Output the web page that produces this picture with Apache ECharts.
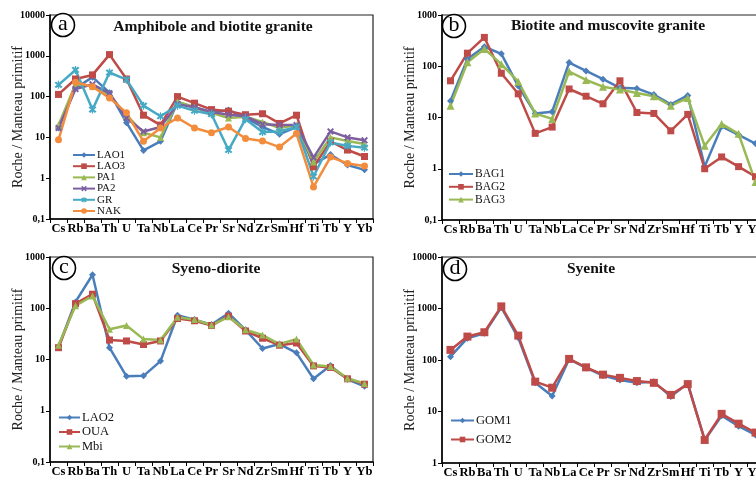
<!DOCTYPE html>
<html>
<head>
<meta charset="utf-8">
<script src="https://cdn.jsdelivr.net/npm/echarts@6/dist/echarts.min.js"></script>
<style>html,body{margin:0;padding:0;background:#fff;}#chart{width:756px;height:479px;}</style>
</head>
<body>
<div id="chart"></div>
<script>
const categories = ['Cs','Rb','Ba','Th','U','Ta','Nb','La','Ce','Pr','Sr','Nd','Zr','Sm','Hf','Ti','Tb','Y','Yb'];

// Panel a: Amphibole and biotite granite
const LAO1 = [17,160,300,125,23,4.8,8,73,55,40,47,30,18,12,18,2.2,3.8,2.1,1.6];
const LAO3 = [113,270,340,1070,270,35,20,100,69,48,44,36,38,22,35,1.9,8,4.9,3.4];
const PA1  = [20,200,180,110,35,13,10,75,55,40,30,32,24,17,20,2.5,10,8.2,6.9];
const PA2  = [17,153,200,120,30,14,18,65,55,42,36,33,21,20,20,3.2,14,10,8.5];
const GR   = [194,450,48,390,260,60,33,60,45,37,4.9,28,13.5,14,18,1.1,7.5,6.2,5.6];
const NAK  = [8.7,225,175,93,40,8,17,30,17,13,18,9.4,8.2,5.8,12.4,0.61,3.3,2.3,2.0];

// Panel b: Biotite and muscovite granite
const BAG1 = [21,138,240,175,41,12,13,118,81,56,38,37,28,18,27,1.1,6.7,4.6,3.1];
const BAG2 = [52,180,365,73,29,4.9,6.5,36,26,18.5,52,12.5,12,5.5,11.5,1.0,1.7,1.1,0.7];
const BAG3 = [17,120,218,110,50,12,9.4,79,54,40,35,30,26,17,24,2.8,7.5,4.8,0.55];

// Panel c: Syeno-diorite
const LAO2 = [17.7,133,450,17,4.7,4.8,9.3,73,60,48,80,38,16.4,20,13.5,4.2,7.6,4.1,3.0];
const OUA  = [17,123,188,24,23,19.6,23,63,57,46,70,36,26,19,21,7.5,7,4.2,3.3];
const Mbi  = [19,112,174,39,46,25,24,67,60,47,68,38,30,20,25,7.8,7.3,4.3,3.4];

// Panel d: Syenite
const GOM1 = [116,265,330,1050,270,36,20,104,70,50,41,36,38,19.5,35,2.8,8.3,5.2,3.5];
const GOM2 = [157,285,346,1100,298,38,29,105,72,52,45,39,36,21,34,2.8,9,5.8,3.9];

const panelTitles = ['Amphibole and biotite granite','Biotite and muscovite granite','Syeno-diorite','Syenite'];
const panelLetters = ['a','b','c','d'];
const yRanges = [[0.1,10000],[0.1,1000],[0.1,1000],[1,10000]];
const yName = 'Roche / Manteau primitif';

const C = {blue:'#4A7EBB', red:'#BE4B48', green:'#98B954', purple:'#7D5FA0', cyan:'#46AAC5', orange:'#F38D3D'};
const F = 'Liberation Serif';
const XMARK = 'path://M0,2L2,0L5,3L8,0L10,2L7,5L10,8L8,10L5,7L2,10L0,8L3,5Z';
const STAR = 'path://M0,2L2,0L5,3L8,0L10,2L7,5L10,8L8,10L5,7L2,10L0,8L3,5Z M4.2,-1L5.8,-1L5.8,11L4.2,11Z';

const grids = [
  {left:50, top:15, width:323, height:204},
  {left:442, top:15, width:322, height:205},
  {left:50, top:257, width:323, height:205},
  {left:442, top:257, width:322, height:206}
];

function fmt(v){
  const s = Number(Number(v).toPrecision(3)).toString();
  return s.replace('.', ',');
}

const xAxis = grids.map((g,i)=>({
  type:'category', gridIndex:i, data:categories, boundaryGap:true,
  axisLine:{lineStyle:{color:'#000', width:1.5}},
  axisTick:{show:true, length:4, lineStyle:{color:'#000'}},
  axisLabel:{interval:0, hideOverlap:false, color:'#000', fontFamily:F, fontWeight:'bold', fontSize:12.5, margin:3}
}));
const yAxis = grids.map((g,i)=>({
  type:'log', logBase:10, gridIndex:i, min:yRanges[i][0], max:yRanges[i][1],
  name:yName, nameLocation:'middle', nameGap:25, nameMoveOverlap:false,
  nameTextStyle:{fontFamily:F, fontSize:14, color:'#222'},
  axisLine:{show:true, lineStyle:{color:'#000', width:1.5}},
  axisTick:{show:true, length:4, lineStyle:{color:'#000'}},
  splitLine:{show:false}, minorTick:{show:false},
  axisLabel:{color:'#000', fontFamily:F, fontWeight:'bold', fontSize:10, margin:5, formatter:fmt}
}));

function mk(name, data, idx, color, symbol, size, extra){
  const s = {
    name, type:'line', data, xAxisIndex:idx, yAxisIndex:idx,
    symbol, symbolSize:size, color,
    lineStyle:{width:2.5, color},
    itemStyle:{color},
    z: 2
  };
  return Object.assign(s, extra||{});
}

const series = [
  mk('LAO1', LAO1, 0, C.blue, 'diamond', 7),
  mk('LAO3', LAO3, 0, C.red, 'rect', 7),
  mk('PA1', PA1, 0, C.green, 'triangle', 7),
  mk('PA2', PA2, 0, C.purple, XMARK, 7),
  mk('GR', GR, 0, C.cyan, STAR, 8),
  mk('NAK', NAK, 0, C.orange, 'circle', 7),
  mk('BAG1', BAG1, 1, C.blue, 'diamond', 7),
  mk('BAG2', BAG2, 1, C.red, 'rect', 7),
  mk('BAG3', BAG3, 1, C.green, 'triangle', 8),
  mk('LAO2', LAO2, 2, C.blue, 'diamond', 7),
  mk('OUA', OUA, 2, C.red, 'rect', 7),
  mk('Mbi', Mbi, 2, C.green, 'triangle', 7),
  mk('GOM1', GOM1, 3, C.blue, 'diamond', 7),
  mk('GOM2', GOM2, 3, C.red, 'rect', 8)
];

function legend(names, left, top, fontSize, lineHeight, gap, itemWidth){
  return {
    data:names, orient:'vertical', left, top, itemGap:gap, itemWidth, itemHeight:7, padding:0,
    selectedMode:false,
    textStyle:{fontFamily:F, fontSize, lineHeight, color:'#111', padding:[0,0,0,-3]}
  };
}

const titlePos = [[213,19],[608,18],[216,261],[591,261]];
const title = panelTitles.map((t,i)=>({
  text:t, left:titlePos[i][0], top:titlePos[i][1], textAlign:'center', padding:0,
  textStyle:{fontFamily:F, fontWeight:'bold', fontSize:15.5, color:'#111'}
}));

const circlePos = [[63,25],[454,26],[64,268],[455,269]];
const graphic = [];
circlePos.forEach((p,i)=>{
  graphic.push({type:'circle', shape:{cx:p[0], cy:p[1], r:11.5}, style:{fill:'#fff', stroke:'#000', lineWidth:1.6}, z:10});
  graphic.push({type:'text', x:p[0], y:p[1]-1, style:{text:panelLetters[i], fontFamily:F, fontSize:22, fill:'#000', align:'center', verticalAlign:'middle'}, z:11});
});

const chart = echarts.init(document.getElementById('chart'), null, {renderer:'canvas'});
chart.setOption({
  animation:false,
  backgroundColor:'#fff',
  title,
  grid: grids.map(g=>Object.assign({show:true, borderColor:'#222', borderWidth:1.2, backgroundColor:'transparent', outerBoundsMode:'none', containLabel:false}, g)),
  xAxis, yAxis, series,
  legend:[
    legend(['LAO1','LAO3','PA1','PA2','GR','NAK'], 72, 149.5, 11, 9, 0.2, 22),
    legend(['BAG1','BAG2','BAG3'], 448, 168, 11.5, 10, 0.8, 24),
    legend(['LAO2','OUA','Mbi'], 58, 411, 12.5, 12, 1.5, 21),
    legend(['GOM1','GOM2'], 450, 414, 12.5, 12, 6, 23)
  ],
  graphic
});
</script>
</body>
</html>
